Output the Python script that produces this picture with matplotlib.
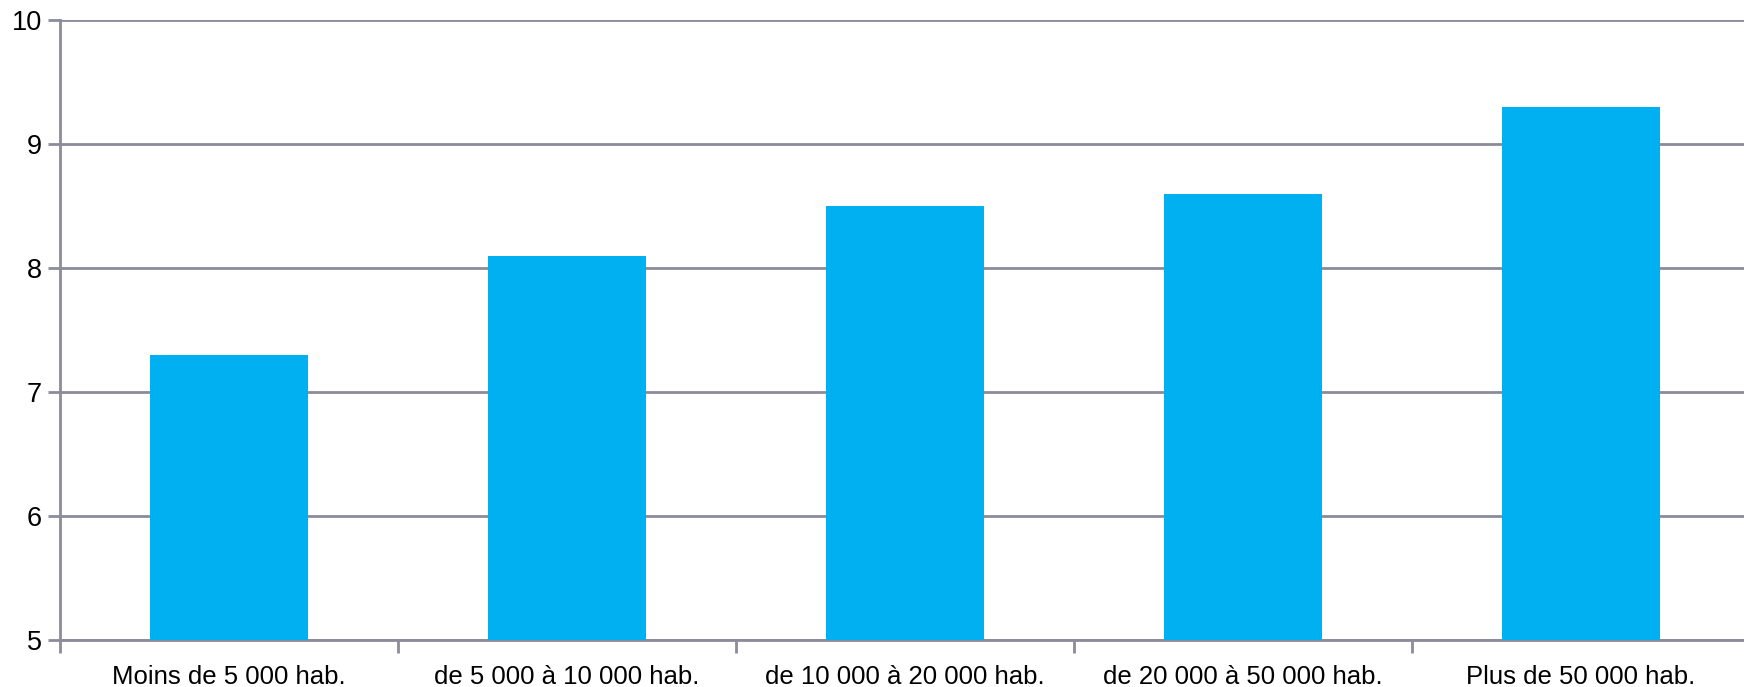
import numpy as np
import matplotlib
matplotlib.use('Agg')
import matplotlib.pyplot as plt

categories = ['Moins de 5 000 hab.', 'de 5 000 à 10 000 hab.', 'de 10 000 à 20 000 hab.',
              'de 20 000 à 50 000 hab.', 'Plus de 50 000 hab.']
values = [7.3, 8.1, 8.5, 8.6, 9.3]
y_ticks = [5, 6, 7, 8, 9, 10]

GRID = '#8b8b9b'
BAR = '#00b0f0'

plt.rcParams['font.family'] = ['Liberation Sans', 'DejaVu Sans']

fig = plt.figure(figsize=(17.44, 6.87), dpi=100)
ax = fig.add_axes([60 / 1744, 1 - 640 / 687, 1690 / 1744, 620 / 687])

x = np.arange(len(categories))
ax.bar(x, values, width=0.467, color=BAR, zorder=3)

ax.set_xlim(-0.5, len(categories) - 0.5)
ax.set_ylim(5, 10)
ax.set_yticks(y_ticks)
ax.set_yticklabels([str(t) for t in y_ticks], fontsize=19.5)
ax.yaxis.grid(True, color=GRID, linewidth=2, zorder=0)

ax.set_xticks(x)
ax.set_xticklabels(categories, fontsize=18.5)
ax.set_xticks(np.arange(len(categories)) - 0.5, minor=True)
ax.tick_params(axis='x', which='major', length=0, pad=18)
ax.tick_params(axis='x', which='minor', length=9, width=2, color=GRID)
ax.tick_params(axis='y', length=9, width=2, color=GRID, pad=4)

for side in ['top', 'right']:
    ax.spines[side].set_visible(False)
for side in ['left', 'bottom']:
    ax.spines[side].set_color(GRID)
    ax.spines[side].set_linewidth(2)

fig.savefig('out.png', dpi=100)
